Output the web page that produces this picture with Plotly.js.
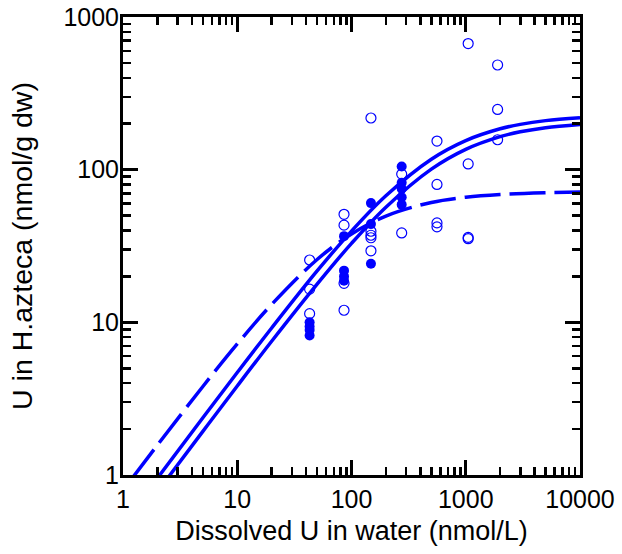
<!DOCTYPE html>
<html>
<head>
<meta charset="utf-8">
<script src="https://cdn.plot.ly/plotly-3.0.1.min.js"></script>
<style>html,body{margin:0;padding:0;background:#fff;}#chart{width:622px;height:554px;}</style>
</head>
<body>
<div id="chart"></div>
<script>
// Fitted curves
const fitX_upper = [2, 5, 10, 20, 50, 100, 200, 500, 1000, 2000, 3000, 5000, 10000];
const fitY_upper = [0.953, 2.37, 4.69, 9.18, 21.7, 39.6, 67.5, 117.1, 155.1, 185.2, 198.0, 209.5, 219.1];
const fitX_lower = [2.5, 5, 10, 20, 50, 100, 200, 500, 1000, 2000, 3000, 5000, 10000];
const fitY_lower = [0.97, 1.93, 3.83, 7.52, 17.8, 32.9, 56.8, 100.8, 135.9, 164.6, 177.0, 188.4, 198.0];
const fitX_dashed = [1.2, 2, 5, 10, 20, 50, 100, 200, 500, 1000, 2000, 5000, 10000];
const fitY_dashed = [0.95, 1.57, 3.80, 7.22, 13.1, 25.8, 37.9, 49.7, 61.0, 66.0, 68.8, 70.6, 71.3];

// Observations: open circles
const openX = [43, 43, 43,
               86, 86, 86, 86,
               148, 148, 148, 148, 148,
               275, 275,
               560, 560, 560, 560,
               1050, 1050, 1050, 1050,
               1900, 1900, 1900];
const openY = [25.6, 16.5, 11.4,
               51.0, 43.3, 18.0, 12.0,
               218, 39.5, 37.2, 35.8, 29.4,
               93.5, 38.5,
               154, 80, 44.8, 42.2,
               670, 109, 36.0, 35.3,
               485, 248, 157];

// Observations: filled circles
const filledX = [43, 43, 43, 43,
                 86, 86, 86, 86,
                 148, 148, 148,
                 275, 275, 275, 275, 275];
const filledY = [10.0, 9.4, 8.9, 8.2,
                 36.7, 21.8, 20.0, 18.7,
                 60.4, 44.0, 24.2,
                 105, 82, 75, 66, 59];

const xTickVals = [1, 10, 100, 1000, 10000];
const xTickText = ['1', '10', '100', '1000', '10000'];
const yTickVals = [1, 10, 100, 1000];
const yTickText = ['1', '10', '100', '1000'];

function minorVals(nDec) {
  const v = [];
  for (let d = 0; d < nDec; d++) for (let k = 2; k <= 9; k++) v.push(k * Math.pow(10, d));
  return v;
}

const BLUE = '#0000ff';
const FONT = 'Liberation Sans, Arial, sans-serif';
const traces = [
  {x: fitX_upper, y: fitY_upper, mode: 'lines', line: {color: BLUE, width: 3.5, shape: 'spline'}, hoverinfo: 'skip'},
  {x: fitX_lower, y: fitY_lower, mode: 'lines', line: {color: BLUE, width: 3.5, shape: 'spline'}, hoverinfo: 'skip'},
  {x: fitX_dashed, y: fitY_dashed, mode: 'lines', line: {color: BLUE, width: 3.5, shape: 'spline', dash: '36px,9px'}, hoverinfo: 'skip'},
  {x: openX, y: openY, mode: 'markers', marker: {symbol: 'circle-open', size: 10, color: BLUE, line: {width: 1.2, color: BLUE}}},
  {x: filledX, y: filledY, mode: 'markers', marker: {symbol: 'circle', size: 10, color: BLUE}}
];

const axisCommon = {
  type: 'log',
  showline: true, linewidth: 3, linecolor: '#000', mirror: 'ticks',
  ticks: 'inside', ticklen: 15, tickwidth: 3, tickcolor: '#000',
  showgrid: false, zeroline: false,
  tickfont: {family: FONT, size: 25, color: '#000'},
  tickmode: 'array'
};

const layout = {
  width: 622, height: 554,
  margin: {l: 123, r: 42, t: 17, b: 79},
  paper_bgcolor: '#fff', plot_bgcolor: '#fff',
  showlegend: false,
  xaxis: Object.assign({}, axisCommon, {
    range: [0, 4], tickvals: xTickVals, ticktext: xTickText,
    minor: {tickmode: 'array', tickvals: minorVals(4), ticks: 'inside', ticklen: 8, tickwidth: 2.5, tickcolor: '#000', showgrid: false},
    title: {text: 'Dissolved U in water (nmol/L)', font: {family: FONT, size: 27, color: '#000'}, standoff: 10}
  }),
  yaxis: Object.assign({}, axisCommon, {
    range: [0, 3], tickvals: yTickVals, ticktext: yTickText,
    ticklabelstandoff: -4,
    minor: {tickmode: 'array', tickvals: minorVals(3), ticks: 'inside', ticklen: 8, tickwidth: 2.5, tickcolor: '#000', showgrid: false},
    title: {text: 'U in H.azteca (nmol/g dw)', font: {family: FONT, size: 28.5, color: '#000'}, standoff: 23}
  })
};

Plotly.newPlot('chart', traces, layout, {displayModeBar: false, staticPlot: true});
</script>
</body>
</html>
